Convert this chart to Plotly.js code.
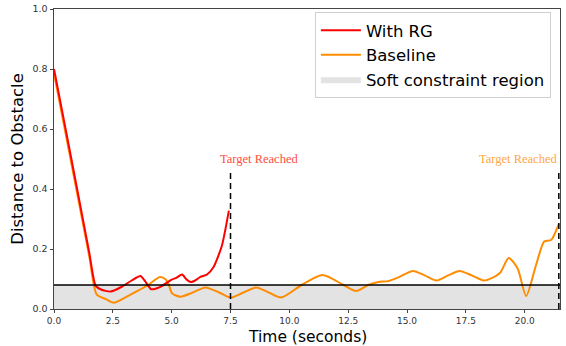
<!DOCTYPE html>
<html>
<head>
<meta charset="utf-8">
<script src="https://cdn.plot.ly/plotly-3.0.1.min.js"></script>
<style>html,body{margin:0;padding:0;background:#fff;}#chart{width:566px;height:346px;}</style>
</head>
<body>
<div id="chart"></div>
<script>
// With RG series
const rgTime = [0.0, 0.5, 1.0, 1.5, 1.77, 2.0, 2.4, 2.9, 3.3, 3.67, 3.85, 4.13, 4.52, 5.0, 5.2, 5.44, 5.65, 5.82, 6.0, 6.22, 6.5, 6.78, 7.13, 7.43];
const rgDist = [0.80, 0.597, 0.393, 0.187, 0.077, 0.065, 0.058, 0.075, 0.095, 0.11, 0.095, 0.066, 0.074, 0.098, 0.104, 0.115, 0.097, 0.09, 0.095, 0.107, 0.115, 0.14, 0.21, 0.328];
// Baseline series
const baseTime = [0.0, 0.5, 1.0, 1.5, 1.81, 2.2, 2.55, 3.0, 3.5, 4.0, 4.5, 4.75, 4.88, 5.02, 5.37, 5.9, 6.43, 7.0, 7.5, 8.05, 8.59, 9.1, 9.65, 10.52, 11.41, 12.3, 12.83, 13.35, 13.78, 14.2, 14.7, 15.25, 15.75, 16.24, 16.75, 17.23, 17.75, 18.25, 18.6, 18.96, 19.32, 19.7, 20.06, 20.48, 20.83, 21.12, 21.45];
const baseDist = [0.785, 0.582, 0.379, 0.175, 0.049, 0.033, 0.021, 0.037, 0.058, 0.08, 0.107, 0.098, 0.08, 0.052, 0.041, 0.055, 0.072, 0.056, 0.038, 0.055, 0.072, 0.056, 0.038, 0.08, 0.113, 0.08, 0.06, 0.08, 0.09, 0.093, 0.108, 0.127, 0.112, 0.095, 0.112, 0.127, 0.112, 0.095, 0.103, 0.121, 0.17, 0.135, 0.043, 0.146, 0.225, 0.23, 0.284];
// Soft constraint region
const regionTime = [0, 21.5, 21.5, 0];
const regionDist = [0, 0, 0.08, 0.08];
const threshold = 0.08;
const targetTimes = [7.5, 21.45];
const targetLabels = ["Target Reached", "Target Reached"];
const xTitle = "Time (seconds)";
const yTitle = "Distance to Obstacle";
const xTicks = [0, 2.5, 5, 7.5, 10, 12.5, 15, 17.5, 20];
const xTickText = ["0.0", "2.5", "5.0", "7.5", "10.0", "12.5", "15.0", "17.5", "20.0"];
const yTicks = [0, 0.2, 0.4, 0.6, 0.8, 1.0];
const yTickText = ["0.0", "0.2", "0.4", "0.6", "0.8", "1.0"];

const traces = [
  {x: regionTime, y: regionDist, type: 'scatter', mode: 'lines', fill: 'toself',
   fillcolor: '#e3e3e3', line: {width: 0, color: '#e3e3e3'}, name: 'Soft constraint region', legendrank: 3, hoverinfo: 'skip'},
  {x: baseTime, y: baseDist, type: 'scatter', mode: 'lines', name: 'Baseline',
   line: {color: '#ff8c00', width: 2, shape: 'spline', smoothing: 0.7}, legendrank: 2},
  {x: rgTime, y: rgDist, type: 'scatter', mode: 'lines', name: 'With RG',
   line: {color: '#ff0000', width: 2, shape: 'spline', smoothing: 0.6}, legendrank: 1}
];

const shapes = [
  {type: 'line', xref: 'x', yref: 'y', x0: 0, x1: 21.5, y0: threshold, y1: threshold, line: {color: '#000', width: 1.3}},
  {type: 'line', xref: 'x', yref: 'y', x0: targetTimes[0], x1: targetTimes[0], y0: 0, y1: 0.46, line: {color: '#000', width: 1.5, dash: '6px,4px'}},
  {type: 'line', xref: 'x', yref: 'y', x0: targetTimes[1], x1: targetTimes[1], y0: 0, y1: 0.46, line: {color: '#000', width: 1.5, dash: '6px,4px'}}
];

const annotations = [
  {x: targetTimes[0] + 1.2, y: 0.5, xref: 'x', yref: 'y', text: targetLabels[0], showarrow: false,
   font: {family: 'Liberation Serif, Times New Roman, serif', size: 12.5, color: '#ff4d40'}},
  {x: 21.47, y: 0.5, xref: 'x', yref: 'y', text: targetLabels[1], showarrow: false, xanchor: 'right',
   font: {family: 'Liberation Serif, Times New Roman, serif', size: 12.5, color: '#ffa845'}},
  {x: 0.5, y: -0.092, xref: 'paper', yref: 'paper', text: xTitle, showarrow: false, xanchor: 'center', yanchor: 'middle',
   font: {family: 'DejaVu Sans, sans-serif', size: 15.5, color: '#000'}}
];

const layout = {
  width: 566, height: 346,
  margin: {l: 54, r: 6, t: 9, b: 37},
  paper_bgcolor: '#fff', plot_bgcolor: '#fff',
  font: {family: 'DejaVu Sans, sans-serif', color: '#000'},
  xaxis: {range: [0, 21.5], tickvals: xTicks, ticktext: xTickText, showgrid: false, zeroline: false,
    showline: true, linecolor: '#444', linewidth: 1, mirror: true, ticks: 'outside', ticklen: 3, tickcolor: '#444',
    tickfont: {size: 9, color: '#333'}},
  yaxis: {range: [0, 1], tickvals: yTicks, ticktext: yTickText, showgrid: false, zeroline: false,
    showline: true, linecolor: '#444', linewidth: 1, mirror: true, ticks: 'outside', ticklen: 3.5, tickcolor: '#444',
    tickfont: {size: 9.5, color: '#333'},
    title: {text: yTitle, font: {size: 16.5}, standoff: 4}},
  legend: {x: 0.982, y: 0.99, xanchor: 'right', yanchor: 'top', bgcolor: '#fff', bordercolor: '#d0d0d0', borderwidth: 1,
    font: {size: 16.5, color: '#000'}, tracegroupgap: 0, itemwidth: 40},
  shapes: shapes,
  annotations: annotations,
  showlegend: true
};

Plotly.newPlot('chart', traces, layout, {displayModeBar: false, staticPlot: true});
</script>
</body>
</html>
